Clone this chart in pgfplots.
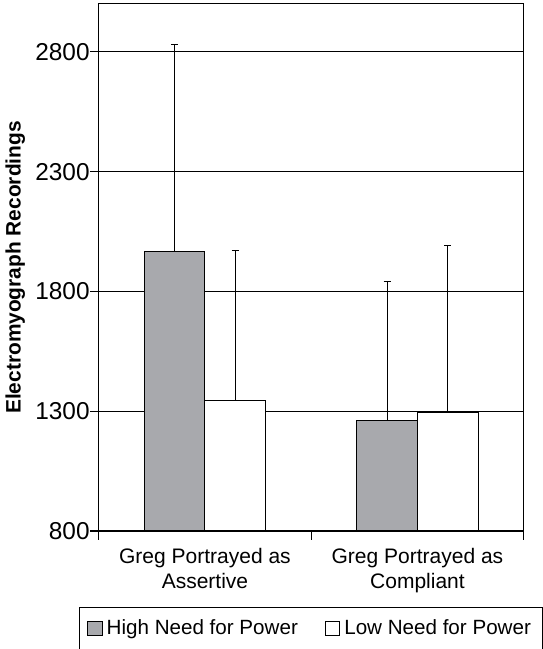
\documentclass[border=0pt]{standalone}
\usepackage{pgfplots}
\pgfplotsset{compat=1.18}
\usepackage{fontspec}
\setmainfont{Liberation Sans}
\definecolor{barGray}{RGB}{168,169,173}

\begin{document}
\begin{tikzpicture}
\begin{axis}[
  scale only axis,
  width=212.5pt, height=263.5pt,
  xmin=-0.5, xmax=1.5,
  ymin=800, ymax=3000,
  ybar,
  ytick={800,1300,1800,2300,2800},
  yticklabels={800,1300,1800,2300,2800},
  ymajorgrids,
  grid style={black, line width=0.5pt},
  axis line style={black, line width=0.5pt},
  tick style={black, line width=0.5pt},
  tick align=outside,
  ytick pos=left, xtick pos=bottom,
  major tick length=4.35pt,
  xtick={-0.5,0.5,1.5},
  xticklabels={,,},
  extra x ticks={0,1},
  extra x tick labels={Greg Portrayed as\\Assertive, Greg Portrayed as\\Compliant},
  extra x tick style={major tick length=0pt},
  yticklabel style={font=\fontsize{12.2}{14}\selectfont, anchor=east, inner sep=0pt},
  xticklabel style={font=\fontsize{10.5}{12.5}\selectfont, align=center, anchor=north, inner sep=0pt, yshift=-8.2pt},
  ylabel={Electromyograph Recordings},
  ylabel style={font=\fontsize{10.45}{12}\selectfont\bfseries, at={(axis description cs:-0.1835,0.5)}, anchor=base, rotate=0},
  legend columns=2,
  legend style={at={(axis description cs:-0.0468,-0.1440)}, anchor=north west,
    draw=black, line width=0.5pt, font=\fontsize{10.3}{12}\selectfont,
    inner xsep=4pt, inner ysep=4pt,
    /tikz/every even column/.append style={column sep=11.5pt}},
  legend cell align=left,
  legend image code/.code={\draw[#1, draw=black, line width=0.5pt] (0pt,-3.6pt) rectangle (7.2pt,3.6pt);},
  error bars/y dir=plus,
  error bars/y explicit,
  error bars/error bar style={black, line width=0.5pt},
  error bars/error mark options={black, rotate=90, mark size=1.8pt, line width=0.5pt},
]
\coordinate (O) at (rel axis cs:0,0);

% High need for power
\addplot[fill=barGray, draw=black, line width=0.5pt, bar width=0.285, bar shift=-0.1425]
  coordinates {(0,1966) +- (0,866) (1,1262) +- (0,580)};
\addlegendentry{High Need for Power}

% Low need for power
\addplot[fill=white, draw=black, line width=0.5pt, bar width=0.285, bar shift=0.1425]
  coordinates {(0,1346) +- (0,626) (1,1293) +- (0,697)};
\addlegendentry{Low Need for Power}
\end{axis}
\pgfresetboundingbox
\path ([shift={(-49.35pt,-59pt)}]O) rectangle ([shift={(221.65pt,265.5pt)}]O);
\end{tikzpicture}
\end{document}
